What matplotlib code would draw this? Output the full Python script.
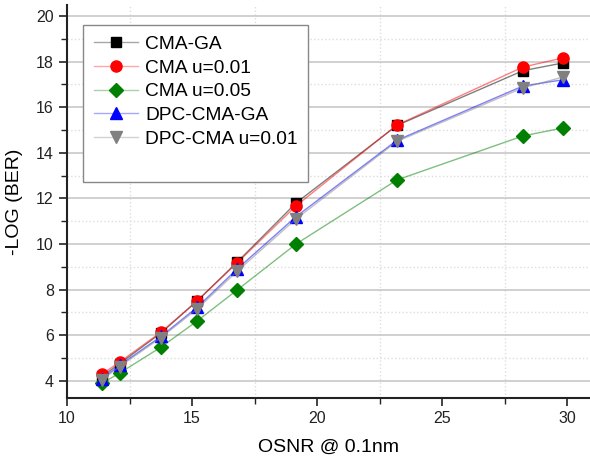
import matplotlib
matplotlib.use("Agg")
from matplotlib import pyplot as plt
from matplotlib.ticker import MultipleLocator

osnr = [11.4, 12.1, 13.76, 15.2, 16.8, 19.16, 23.2, 28.24, 29.84]

cma_ga = [4.2, 4.75, 6.1, 7.5, 9.2, 11.8, 15.2, 17.6, 17.94]
cma_001 = [4.3, 4.82, 6.14, 7.5, 9.17, 11.67, 15.22, 17.76, 18.16]
cma_005 = [3.9, 4.34, 5.48, 6.62, 7.98, 10.0, 12.81, 14.74, 15.09]
dpc_ga = [4.1, 4.68, 5.95, 7.22, 8.9, 11.2, 14.55, 16.93, 17.2]
dpc_001 = [4.05, 4.62, 5.9, 7.15, 8.8, 11.1, 14.5, 16.85, 17.32]

labels = ["CMA-GA", "CMA u=0.01", "CMA u=0.05", "DPC-CMA-GA", "DPC-CMA u=0.01"]
series = [cma_ga, cma_001, cma_005, dpc_ga, dpc_001]
colors = ["black", "red", "green", "blue", "gray"]
markers = ["s", "o", "D", "^", "v"]
msizes = [7, 8, 7, 8, 9]

plt.rcParams['font.family'] = ['Liberation Sans', 'DejaVu Sans']

fig = plt.figure(figsize=(5.9, 4.59), dpi=100)
W, H = 590.0, 459.0
ax = fig.add_axes([67 / W, 1 - 398 / H, (590 - 67) / W, (398 - 5) / H])

for y, lab, c, m, ms in zip(series, labels, colors, markers, msizes):
    ax.plot(osnr, y, color=c, lw=1.0, alpha=0.5)
    ax.plot(osnr, y, ls="none", marker=m, ms=ms, color=c, mec=c)
    # legend handle: translucent line + solid marker
    ax.plot([], [], color=matplotlib.colors.to_rgba(c, 0.35), lw=1.0,
            marker=m, ms=ms, mfc=c, mec=c, label=lab)

ax.set_xlim(10, 30.92)
ax.set_ylim(3.25, 20.48)
ax.xaxis.set_major_locator(MultipleLocator(5))
ax.xaxis.set_minor_locator(MultipleLocator(2.5))
ax.yaxis.set_major_locator(MultipleLocator(2))
ax.yaxis.set_minor_locator(MultipleLocator(1))

ax.grid(which="major", axis="y", color="#c8c8c8", lw=1.2, ls="-")
ax.grid(which="minor", axis="y", color="#dddddd", lw=1.0, ls=":")
ax.grid(which="minor", axis="x", color="#dddddd", lw=1.0, ls=":")
ax.set_axisbelow(True)

for s in ["top", "right"]:
    ax.spines[s].set_visible(False)
for s in ["left", "bottom"]:
    ax.spines[s].set_linewidth(1.5)
    ax.spines[s].set_color("#222222")

ax.tick_params(which="major", direction="out", length=6, width=1.2, labelsize=11.5, colors="#222222")
ax.tick_params(which="minor", direction="out", length=4, width=1.0, colors="#222222")

ax.set_xlabel("OSNR @ 0.1nm", fontsize=14, labelpad=9)
ax.set_ylabel("-LOG (BER)", fontsize=14, labelpad=9)

handles, labs = ax.get_legend_handles_labels()
handles.append(plt.Line2D([], [], color="none"))
labs.append(" ")
leg = ax.legend(handles, labs, loc="upper left", bbox_to_anchor=(16 / 523, 1 - 20 / 393),
                fontsize=13.8, frameon=True, fancybox=False, framealpha=1,
                edgecolor="#888888", handlelength=2.3, handletextpad=0.4,
                labelspacing=0.33, borderpad=0.55, borderaxespad=0)
leg.get_frame().set_linewidth(1.0)

fig.savefig("out.png", dpi=100)
